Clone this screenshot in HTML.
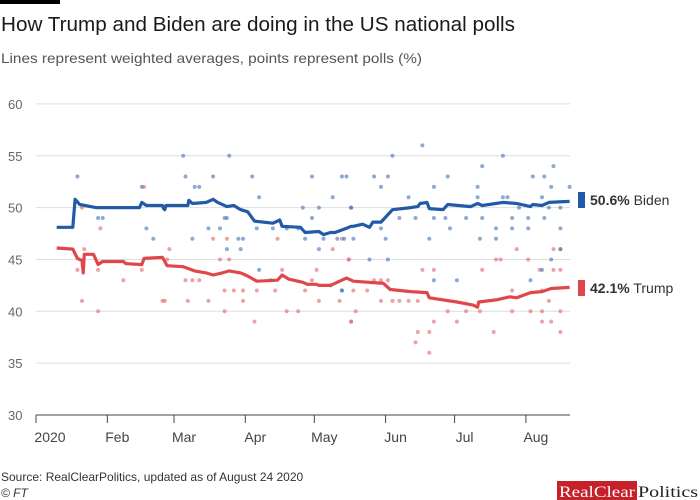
<!DOCTYPE html>
<html><head><meta charset="utf-8"><style>
body{margin:0;background:#fff;font-family:"Liberation Sans",sans-serif}
#wrap{position:relative;width:700px;height:500px;overflow:hidden;background:#fff}
</style></head><body>
<div id="wrap">
<svg id="svg" width="700" height="500">
<rect x="0" y="0" width="60" height="4" fill="#000"/>
<text x="1" y="31" font-size="20" fill="#1a1a1a" textLength="514" lengthAdjust="spacingAndGlyphs">How Trump and Biden are doing in the US national polls</text>
<text x="1" y="63" font-size="14" fill="#555" textLength="421" lengthAdjust="spacingAndGlyphs">Lines represent weighted averages, points represent polls (%)</text>
<g id="grid"></g><g id="dots"></g><g id="lines"></g><g id="axes"></g>
<rect x="578" y="192" width="7" height="16" fill="#225aa8"/>
<text x="590" y="205" font-size="14" fill="#333"><tspan font-weight="bold">50.6%</tspan> Biden</text>
<rect x="578" y="280" width="7" height="16" fill="#e0474c"/>
<text x="590" y="293" font-size="14" fill="#333"><tspan font-weight="bold">42.1%</tspan> Trump</text>
<text x="1" y="481" font-size="12" fill="#333">Source: RealClearPolitics, updated as of August 24 2020</text>
<text x="1" y="497" font-size="12" font-style="italic" fill="#333">© FT</text>
<rect x="557" y="481" width="80" height="19" fill="#c6202a"/>
<text x="559" y="497" font-size="16" font-family="Liberation Serif,serif" fill="#fff" textLength="76" lengthAdjust="spacingAndGlyphs">RealClear</text>
<text x="638" y="497" font-size="16" font-family="Liberation Serif,serif" fill="#222" textLength="60" lengthAdjust="spacingAndGlyphs">Politics</text>
</svg></div>
<script>
const yTicks=[30,35,40,45,50,55,60];
const monthLabels=["2020","Feb","Mar","Apr","May","Jun","Jul","Aug"];
const monthDays=[0,31,60,91,121,152,182,213];
const bidenDays=[9,16,17,19,26,45,46,48,55,55.5,56,56.5,66,66.5,68,74,77,79,83,86,89,92,95,103,106,107,115,117,123,125,128,130,135,137,138,142,145,146.5,150,155,163,166,167,170,171,177,179,189,192,194,203,209,215,216,220,223,232];
const bidenVals=[48.1,48.1,50.8,50.3,50.0,50.0,50.5,50.2,50.2,49.9,49.8,50.2,50.2,50.7,50.4,50.5,50.8,50.5,50.1,50.2,49.8,49.6,48.7,48.5,48.8,48.2,48.1,47.6,47.7,47.4,47.6,47.6,48.0,48.2,48.2,48.4,48.1,48.6,48.6,49.8,50.0,50.1,50.4,50.5,49.9,49.8,50.3,50.1,50.4,50.2,50.5,50.4,50.1,50.3,50.2,50.5,50.6];
const trumpDays=[9,16,18,20,20.5,21,25,27,29,38,39,46,47,55,57,64,69,74,77,81,84,89,92,96,105,107,110,116,118,122,123,128,135,138,151,154,163,170,171,183,190,192,192.5,200,206,209,215,220,224,232];
const trumpVals=[46.1,46.0,45.1,44.9,43.7,45.5,45.5,44.5,44.8,44.8,44.6,44.5,45.1,45.2,44.4,44.3,43.9,43.7,43.5,43.7,43.9,43.7,43.4,42.9,43.0,43.5,43.1,42.8,42.6,42.6,42.5,42.5,43.2,42.9,42.7,42.1,41.9,41.8,41.3,40.9,40.6,40.4,40.9,41.1,41.4,41.3,41.8,41.9,42.2,42.3];
const bidenPollDays=[18,64,84,65,77,94,120,135,69,71,46,97,116,123,137,27,29,82,83,120,48,75,80,96,103,109,114,51,68,88,90,117,125,134,83,89,123,97,102,133,128,168,155,203,133,147,153,179,194,216,221,225,150,173,192,224,232,129,162,192,203,205,220,137,210,223,228,158,165,173,178,187,194,207,214,221,150,180,200,207,214,228,131,138,152,171,193,200,228,145,153,224,220,173,183,215,133];
const bidenPollVals=[53,55,55,53,53,53,53,53,52,52,52,51,50,50,50,49,49,49,49,49,48,48,48,48,48,48,48,47,47,47,47,47,47,47,46,46,46,44,43,42,42.5,56,55,55,53,53,53,53,54,53,53,54,52,52,52,52,52,51,51,51,51,51,51,50,50,50,50,49,49,49,49,49,49,49,49,49,48,48,48,48,48,48,47,47,47,47,47,47,46,45,45,45,44,43,43,43,42];
const trumpPollDays=[47,20,28,18,21,58,27,46,57,38,65,68,71,77,83,80,84,20,27,55,56,66,75,82,82,86,90,90,96,104,95,105,107,109,114,117,122,123,120,129,133,136,139,137,209,225,228,136,200,202,214,168,173,194,219,225,228,147,150,153,138,144,207,220,223,132,150,155,158,162,166,179,187,193,207,215,220,228,137,173,183,220,224,166,171,199,228,171,165];
const trumpPollVals=[52,50,48,44,46,46,44,44,45,43,43,43,43,47,47,45,45,41,40,41,41,41,41,42,40,42,42,41,42,42,39,47,44,40,40,42,44,41,43,46,47,45,40,39,46,46,46,45,45,45,45,44,44,44,44,44,44,43,43,43,42,42,42,42,41,41,41,41,41,41,41,40,40,40,40,40,40,40,39,39,39,39,39,38,38,38,38,36,37];
const NS="http://www.w3.org/2000/svg";
const X0=36,PX=2.3,YB=415,PY=10.37;
function xs(d){return X0+d*PX;}
function ys(v){return YB-(v-30)*PY;}
function mk(tag,attrs,parent){const e=document.createElementNS(NS,tag);for(const k in attrs)e.setAttribute(k,attrs[k]);document.getElementById(parent).appendChild(e);return e;}
yTicks.forEach(t=>{
 const l=mk('line',{x1:X0,x2:570,y1:ys(t),y2:ys(t),stroke:t===30?'#444':'#ddd','stroke-width':1},'grid');
 
 
 const tx=mk('text',{x:8,y:ys(t)+5,'font-size':13,fill:'#666'},'axes');
 tx.textContent=t;
 
 
});
monthDays.forEach((d,i)=>{
 const l=mk('line',{x1:xs(d),x2:xs(d),y1:YB,y2:YB+8,stroke:'#444'},'axes');
 
 
 const tx=mk('text',{x:xs(d)+(i===0?14:10),y:YB+27,'font-size':14,fill:'#444','text-anchor':'middle'},'axes');
 tx.textContent=monthLabels[i];
 
 
});
function dots(days,vals,col,name){days.forEach((d,i)=>{
 const c=mk('circle',{cx:xs(d),cy:ys(vals[i]),r:2,fill:col,opacity:0.6},'dots');
 
 
});}
dots(trumpPollDays,trumpPollVals,'#e0666b','trump-poll-point');
dots(bidenPollDays,bidenPollVals,'#3f72b8','biden-poll-point');
function line(days,vals,col,name){
 const p=mk('path',{d:days.map((d,i)=>(i?'L':'M')+xs(d).toFixed(1)+','+ys(vals[i]).toFixed(1)).join(''),fill:'none',stroke:col,'stroke-width':3.2,'stroke-linejoin':'round'},'lines');
 
 
}
line(trumpDays,trumpVals,'#e0474c','trump-average-line');
line(bidenDays,bidenVals,'#225aa8','biden-average-line');
</script></body></html>
